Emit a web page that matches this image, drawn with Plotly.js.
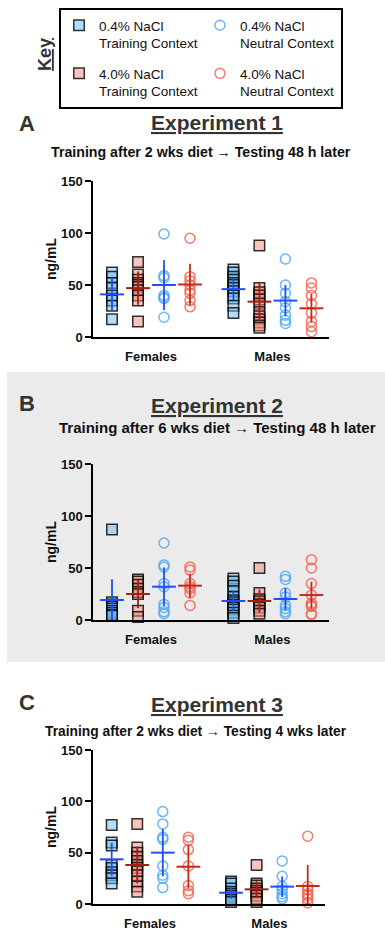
<!DOCTYPE html>
<html><head><meta charset="utf-8">
<script src="https://cdn.plot.ly/plotly-3.0.1.min.js"></script>
<style>html,body{margin:0;padding:0;background:#fff;}#chart{width:385px;height:930px;}</style>
</head><body><div id="chart"></div>
<script>
// ---------- DATA (ng/mL) ----------
const sexes = ['Females', 'Males'];
const yTicks = [0, 50, 100, 150];
const experimentTitles = ['Experiment 1', 'Experiment 2', 'Experiment 3'];
const panelLetters = ['A', 'B', 'C'];
const subtitles = [
  'Training after 2 wks diet \u2192 Testing 48 h later',
  'Training after 6 wks diet \u2192 Testing 48 h later',
  'Training after 2 wks diet \u2192 Testing 4 wks later'
];
const groupLabels = ['0.4% NaCl<br>Training Context', '4.0% NaCl<br>Training Context',
                     '0.4% NaCl<br>Neutral Context', '4.0% NaCl<br>Neutral Context'];

// Experiment 1
const e1_train04_F = [62, 58, 52, 47, 40, 35, 30, 17];
const e1_train40_F = [72, 60, 55, 52, 50, 48, 45, 40, 35, 15];
const e1_neut04_F  = [99, 59, 57, 40, 38, 37, 19];
const e1_neut40_F  = [95, 58, 54, 50, 45, 42, 35, 29];
const e1_train04_M = [65, 62, 58, 55, 52, 50, 47, 44, 40, 37, 30, 23];
const e1_train40_M = [88, 47, 43, 40, 36, 32, 24, 20, 17, 14, 11, 9];
const e1_neut04_M  = [75, 50, 42, 34, 28, 21, 16, 13];
const e1_neut40_M  = [52, 47, 40, 32, 23, 15, 10, 5];
const e1_mean = { train04: [41, 46], train40: [47, 34], neut04: [50, 35], neut40: [50.5, 27.6] };
const e1_sd   = { train04: [15.5, 10.5], train40: [16, 19], neut04: [24, 15], neut40: [20, 13.7] };

// Experiment 2
const e2_train04_F = [87, 17, 15, 13, 11, 9, 7, 5, 4];
const e2_train40_F = [39, 37, 34, 30, 27, 25, 9, 3];
const e2_neut04_F  = [74, 53, 51, 35, 32, 15, 12, 8, 6];
const e2_neut40_F  = [51, 48, 35, 32, 30, 26, 14];
const e2_train04_M = [40, 37, 33, 28, 22, 19, 17, 15, 12, 10, 7, 4, 2];
const e2_train40_M = [50, 26, 20, 18, 15, 12, 9, 6];
const e2_neut04_M  = [42, 39, 26, 22, 14, 11, 8, 6];
const e2_neut40_M  = [58, 50, 35, 24, 16, 14, 13, 6, 5];
const e2_mean = { train04: [19.2, 18.3], train40: [25, 18.3], neut04: [32, 20.2], neut40: [33, 24] };
const e2_sd   = { train04: [20, 9.6], train40: [13.5, 11], neut04: [18.6, 10.5], neut40: [11.5, 12.8] };

// Experiment 3
const e3_train04_F = [77, 60, 57, 38, 35, 31, 28, 25, 20];
const e3_train40_F = [78, 55, 50, 46, 42, 38, 35, 32, 28, 22, 17, 12];
const e3_neut04_F  = [90, 78, 65, 63, 37, 28, 25, 16];
const e3_neut40_F  = [65, 62, 53, 37, 18, 13, 10];
const e3_train04_M = [22, 20, 15, 12, 10, 8, 6, 4, 2];
const e3_train40_M = [38, 20, 18, 15, 13, 11, 8, 5, 2];
const e3_neut04_M  = [42, 27, 17, 14, 10, 7, 5];
const e3_neut40_M  = [66, 17, 14, 10, 8, 5, 1];
const e3_mean = { train04: [43.5, 11], train40: [38, 14.3], neut04: [50, 16.9], neut40: [36.3, 17.5] };
const e3_sd   = { train04: [16, 6], train40: [18, 8], neut04: [23, 10], neut40: [21, 20.5] };

// ---------- assemble ----------
const experiments = [
  { pts: { train04: [e1_train04_F, e1_train04_M], train40: [e1_train40_F, e1_train40_M],
           neut04: [e1_neut04_F, e1_neut04_M], neut40: [e1_neut40_F, e1_neut40_M] }, mean: e1_mean, sd: e1_sd },
  { pts: { train04: [e2_train04_F, e2_train04_M], train40: [e2_train40_F, e2_train40_M],
           neut04: [e2_neut04_F, e2_neut04_M], neut40: [e2_neut40_F, e2_neut40_M] }, mean: e2_mean, sd: e2_sd },
  { pts: { train04: [e3_train04_F, e3_train04_M], train40: [e3_train40_F, e3_train40_M],
           neut04: [e3_neut04_F, e3_neut04_M], neut40: [e3_neut40_F, e3_neut40_M] }, mean: e3_mean, sd: e3_sd }
];

const FONT = 'Liberation Sans, Arial, Helvetica, sans-serif';
const W = 385, H = 930;
const px = v => v / W, py = v => 1 - v / H;

const sexCenter = [2.5, 7.17];
const edge = 'rgba(0,0,0,0.8)';
const groups = [
  { key: 'train04', label: groupLabels[0], rank: 1, off: -1.5, meanColor: '#1f4ef5',
    marker: { symbol: 'square', size: 10.5, color: 'rgba(110,185,240,0.5)', line: { color: edge, width: 1.5 } } },
  { key: 'train40', label: groupLabels[1], rank: 3, off: -0.5, meanColor: '#a81c12',
    marker: { symbol: 'square', size: 10.5, color: 'rgba(240,140,125,0.5)', line: { color: edge, width: 1.5 } } },
  { key: 'neut04', label: groupLabels[2], rank: 2, off: 0.5, meanColor: '#1f4ef5',
    marker: { symbol: 'circle-open', size: 10, color: 'rgba(80,170,245,0.85)', line: { width: 1.5 } } },
  { key: 'neut40', label: groupLabels[3], rank: 4, off: 1.5, meanColor: '#c42a1c',
    marker: { symbol: 'circle-open', size: 10, color: 'rgba(245,100,80,0.85)', line: { width: 1.5 } } }
];

// panel geometry (pixels)
const panels = [
  { top: 181, bottom: 337, right: 329, letterY: 123.5, titleY: 122.5, subY: 152.5, subX: 201, subSize: 14.2 },
  { top: 464, bottom: 620, right: 329, letterY: 404, titleY: 405, subY: 427.5, subX: 217, subSize: 15 },
  { top: 750, bottom: 904, right: 325, letterY: 702, titleY: 704, subY: 731, subX: 196, subSize: 13.8 }
];

const traces = [];
const layout = {
  width: W, height: H, autosize: false,
  margin: { l: 0, r: 0, t: 0, b: 0 },
  paper_bgcolor: '#fff', plot_bgcolor: 'rgba(0,0,0,0)',
  font: { family: FONT, color: '#111' },
  showlegend: true,
  legend: {
    x: px(59), y: py(8), xanchor: 'left', yanchor: 'top',
    orientation: 'h', bordercolor: '#000', borderwidth: 2, bgcolor: '#fff',
    font: { family: FONT, size: 13.5, color: '#111' }, valign: 'top',
    entrywidth: 96, entrywidthmode: 'pixels', itemwidth: 30
  },
  shapes: [
    { type: 'rect', xref: 'paper', yref: 'paper', x0: px(7), x1: 1, y0: py(662), y1: py(372),
      fillcolor: '#ebebeb', line: { width: 0 }, layer: 'below' }
  ],
  annotations: [
    { text: '<u>Key</u>', xref: 'paper', yref: 'paper', x: px(45), y: py(55), textangle: -90,
      xanchor: 'center', yanchor: 'middle',
      showarrow: false, font: { family: FONT, size: 18, weight: 'bold', color: '#333' } }
  ]
};

experiments.forEach((exp, i) => {
  const n = i === 0 ? '' : String(i + 1);
  const xa = 'x' + n, ya = 'y' + n;
  const P = panels[i];
  groups.forEach(g => {
    const xs = [], ys = [];
    exp.pts[g.key].forEach((vals, s) => vals.forEach(v => { xs.push(sexCenter[s] + g.off); ys.push(v); }));
    traces.push({
      type: 'scatter', mode: 'markers', x: xs, y: ys, xaxis: xa, yaxis: ya,
      name: g.label, legendrank: g.rank, showlegend: i === 0, legendgroup: g.key,
      marker: g.marker, cliponaxis: false, hoverinfo: 'y'
    });
  });
  groups.forEach(g => {
    traces.push({
      type: 'scatter', mode: 'markers', xaxis: xa, yaxis: ya, showlegend: false,
      x: sexCenter.map(c => c + g.off), y: exp.mean[g.key],
      marker: { symbol: 'line-ew', size: 17, line: { color: g.meanColor, width: 2 } },
      error_y: { type: 'data', array: exp.sd[g.key], visible: true, color: g.meanColor, thickness: 1.8, width: 0 },
      cliponaxis: false, hoverinfo: 'y'
    });
  });
  layout['xaxis' + n] = {
    domain: [px(93), px(P.right)], range: [0.269, 9.346], anchor: ya,
    showline: true, linecolor: '#000', linewidth: 2, showgrid: false, zeroline: false,
    tickmode: 'array', tickvals: sexCenter, ticktext: sexes,
    ticks: 'outside', ticklen: 6, tickcolor: 'rgba(0,0,0,0)',
    tickfont: { family: FONT, size: 13, weight: 'bold', color: '#111' }, fixedrange: true
  };
  layout['yaxis' + n] = {
    domain: [1 - P.bottom / H, 1 - P.top / H], range: [0, 150], anchor: xa,
    showline: true, linecolor: '#000', linewidth: 1.5, showgrid: false, zeroline: false,
    tickmode: 'array', tickvals: yTicks, ticks: 'outside', ticklen: 6, tickwidth: 1.5, tickcolor: '#000',
    tickfont: { family: FONT, size: 13, weight: 'bold', color: '#111' },
    title: { text: 'ng/mL', font: { family: FONT, size: 14, weight: 'bold', color: '#111' }, standoff: 1 },
    fixedrange: true
  };
  layout.annotations.push(
    { text: panelLetters[i], xref: 'paper', yref: 'paper', x: px(27), y: py(P.letterY), showarrow: false,
      xanchor: 'center', yanchor: 'middle',
      font: { family: FONT, size: 22, weight: 'bold', color: '#333' } },
    { text: '<u>' + experimentTitles[i] + '</u>', xref: 'paper', yref: 'paper', x: px(217), y: py(P.titleY),
      xanchor: 'center', yanchor: 'middle',
      showarrow: false, font: { family: FONT, size: 21, weight: 'bold', color: '#333' } },
    { text: subtitles[i], xref: 'paper', yref: 'paper', x: px(P.subX), y: py(P.subY), showarrow: false,
      xanchor: 'center', yanchor: 'middle',
      font: { family: FONT, size: P.subSize, weight: 'bold', color: '#111' } }
  );
});

Plotly.newPlot('chart', traces, layout, { displayModeBar: false, responsive: false });
</script></body></html>
